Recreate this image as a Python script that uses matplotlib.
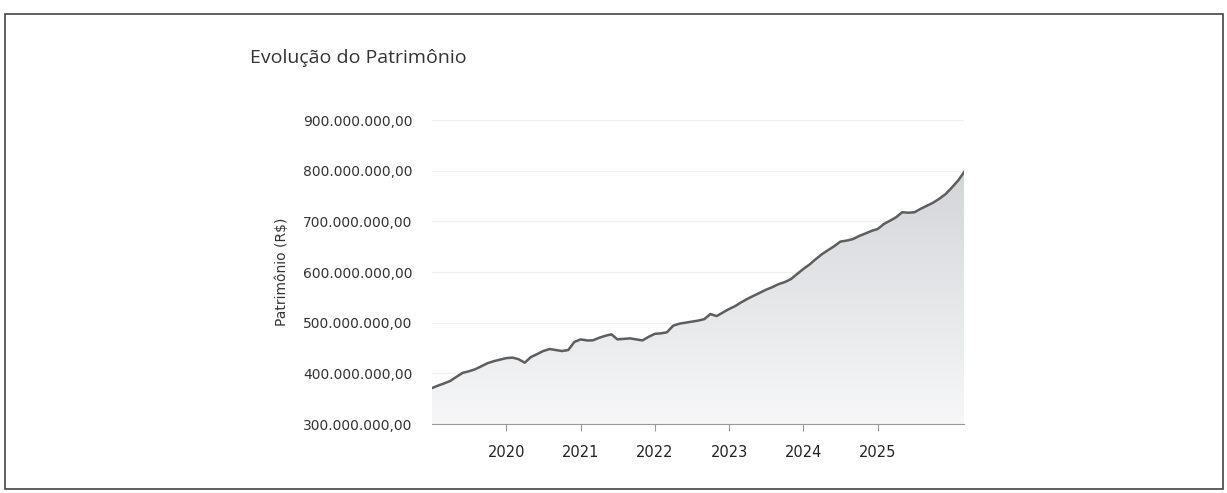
import matplotlib
matplotlib.use("Agg")
import matplotlib.pyplot as plt
import matplotlib.dates as mdates
from matplotlib.ticker import FuncFormatter
from matplotlib.patches import Rectangle
import numpy as np
import pandas as pd

title = "Evolução do Patrimônio"
ylabel = "Patrimônio (R$)"

start_month = "2019-01-01"
# Patrimônio in millions of R$, monthly, Jan 2019 .. Mar 2026
v2019 = [371, 376, 380, 385, 393, 401, 404, 408, 414, 420, 424, 427]
v2020 = [430, 431, 428, 421, 432, 438, 444, 448, 446, 444, 446, 462]
v2021 = [467, 465, 465, 470, 474, 477, 467, 468, 469, 467, 465, 472]
v2022 = [478, 479, 481, 494, 498, 500, 502, 504, 507, 517, 513, 520]
v2023 = [527, 533, 540, 547, 553, 559, 565, 570, 576, 580, 586, 596]
v2024 = [606, 615, 625, 635, 643, 651, 660, 662, 665, 671, 676, 681]
v2025 = [685, 695, 701, 708, 718, 717, 718, 725, 731, 737, 745, 754]
v2026 = [767, 781, 797]

values = np.array(v2019 + v2020 + v2021 + v2022 + v2023 + v2024 + v2025 + v2026) * 1e6
dates = pd.date_range(start_month, periods=len(values), freq="MS")

yticks = [300e6, 400e6, 500e6, 600e6, 700e6, 800e6, 900e6]
years = [2020, 2021, 2022, 2023, 2024, 2025]

fig = plt.figure(figsize=(12.27, 4.93), dpi=100)
ax = fig.add_axes([432 / 1227, 1 - 424 / 493, (964 - 432) / 1227, (424 - 120) / 493])

# gradient fill under the curve
x = mdates.date2num(dates)
ymin, ymax = 300e6, 900e6
grad = np.linspace(0, 1, 256).reshape(-1, 1)
cmap = matplotlib.colors.LinearSegmentedColormap.from_list("g", ["#f7f7f8", "#d3d6d9"])
img = ax.imshow(grad, extent=[x[0], x[-1], ymin, values.max()], origin="lower",
                aspect="auto", cmap=cmap, zorder=1)
clip = matplotlib.patches.Polygon(np.column_stack([np.r_[x, x[::-1]], np.r_[values, np.full(len(x), ymin)]]),
                                  closed=True, transform=ax.transData)
img.set_clip_path(clip)
ax.plot(x, values, color="#5e5e5e", lw=1.8, zorder=3)

ax.set_xlim(x[0], x[-1])
ax.set_ylim(ymin, ymax)
ax.set_yticks(yticks)
ax.yaxis.set_major_formatter(FuncFormatter(lambda v, p: f"{v:,.2f}".replace(",", "X").replace(".", ",").replace("X", ".")))
ax.set_xticks([mdates.date2num(pd.Timestamp(f"{y}-01-01")) for y in years])
ax.set_xticklabels([str(y) for y in years])
ax.grid(axis="y", color="#f0f0f0", lw=1)
ax.set_axisbelow(True)
for s in ["top", "right", "left"]:
    ax.spines[s].set_visible(False)
ax.spines["bottom"].set_color("#999999")
ax.tick_params(axis="y", length=0, labelsize=10, colors="#333333", pad=14)
ax.tick_params(axis="x", length=5, color="#999999", labelsize=10.5, colors="#222222", pad=10)
ax.set_ylabel(ylabel, fontsize=10, color="#333333", labelpad=10)
for lbl in ax.get_yticklabels() + ax.get_xticklabels():
    lbl.set_family("DejaVu Sans")

fig.text(250 / 1227, 1 - 58 / 493, title, fontsize=14, color="#333333", family="Open Sans", va="center")

fig.patches.append(Rectangle((5 / 1227, 1 - 489 / 493), 1218 / 1227, 475 / 493, transform=fig.transFigure,
                             fill=False, edgecolor="#444444", lw=1.2))

fig.savefig("out.png", dpi=100)
